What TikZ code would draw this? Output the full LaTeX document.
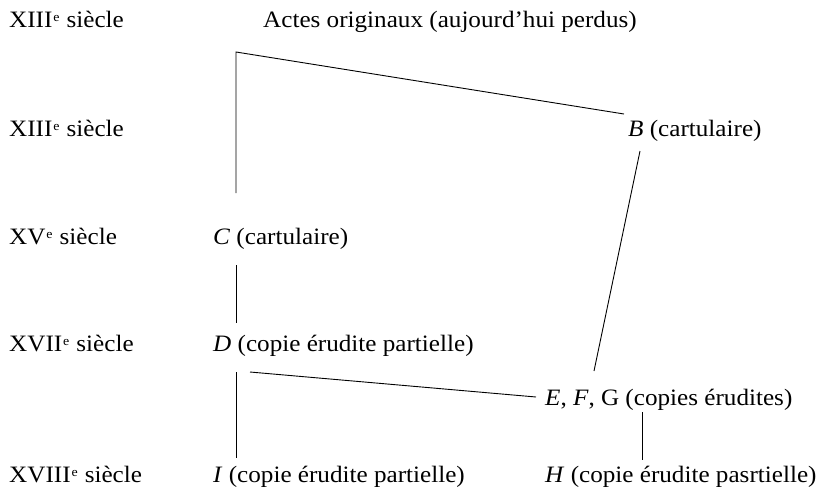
\documentclass[tikz,border=0pt]{standalone}
\usepackage{fontspec}
\setmainfont{Liberation Serif}[FakeStretch=1.07]
\newcommand{\siec}[1]{#1\hspace{0.04em}\raisebox{0.55ex}{\fontsize{13}{13}\selectfont e}\hspace{0.3em}siècle}
\begin{document}
\begin{tikzpicture}[x=1pt,y=-1pt,
  lbl/.style={anchor=base west,inner sep=0pt,font=\fontsize{23.5}{28}\selectfont},
  link/.style={draw=black,line width=0.9pt}]
\useasboundingbox (0,0) rectangle (818,490);
% century labels
\node[lbl] (s1) at (9,27) {\siec{XIII}};
\node[lbl] (s2) at (9,136) {\siec{XIII}};
\node[lbl] (s3) at (9,244) {\siec{XV}};
\node[lbl] (s4) at (9,351) {\siec{XVII}};
\node[lbl] (s5) at (9,482) {\siec{XVIII}};
% witnesses
\node[lbl] (A) at (263,27) {Actes originaux (aujourd’hui perdus)};
\node[lbl] (B) at (628,136) {\textit{B} (cartulaire)};
\node[lbl] (C) at (213,244) {\textit{C} (cartulaire)};
\node[lbl] (D) at (213,351) {\textit{D} (copie érudite partielle)};
\node[lbl] (E) at (545,405) {\textit{E}, \textit{F}, G (copies érudites)};
\node[lbl] (I) at (213,482) {\textit{I} (copie érudite partielle)};
\node[lbl] (H) at (545,482) {\textit{H} (copie érudite pasrtielle)};
% connector end points
\coordinate (corner) at (236,52);
\coordinate (Cin) at (236,193);
\coordinate (Bin) at (624,114);
\coordinate (Bout) at (640,151);
\coordinate (Ein) at (594,371);
\coordinate (Cout) at (236,265);
\coordinate (Din) at (236,323);
\coordinate (Dout) at (236,372);
\coordinate (Iin) at (236,458);
\coordinate (Dout2) at (250,372);
\coordinate (Ein2) at (536,397);
\coordinate (Eout) at (642,412);
\coordinate (Hin) at (642,460);
% connectors
\draw[link] (Cin) -- (corner) -- (Bin);
\draw[link] (Bout) -- (Ein);
\draw[link] (Cout) -- (Din);
\draw[link] (Dout) -- (Iin);
\draw[link] (Dout2) -- (Ein2);
\draw[link] (Eout) -- (Hin);
\end{tikzpicture}
\end{document}
